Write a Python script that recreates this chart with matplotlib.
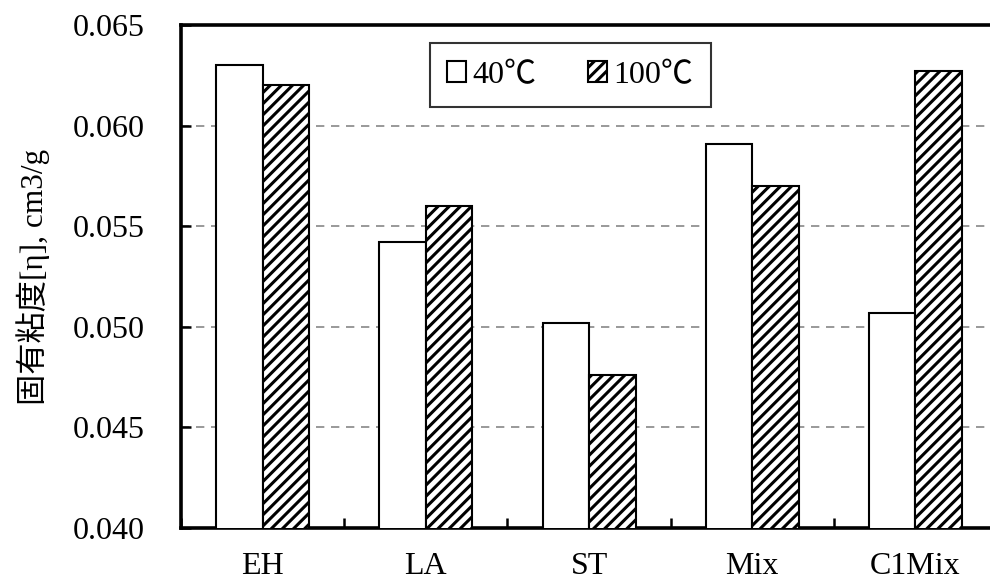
import matplotlib
matplotlib.use("Agg")
import matplotlib.pyplot as plt
import numpy as np

categories = ["EH", "LA", "ST", "Mix", "C1Mix"]
vals_40 = [0.0630, 0.0542, 0.0502, 0.0591, 0.0507]
vals_100 = [0.0620, 0.0560, 0.0476, 0.0570, 0.0627]
series_labels = ["40℃", "100℃"]
yticks = [0.040, 0.045, 0.050, 0.055, 0.060, 0.065]
ylabel = "固有粘度[η], cm3/g"

plt.rcParams["font.family"] = ["Liberation Serif", "Noto Sans CJK JP"]
plt.rcParams["hatch.linewidth"] = 2.2
plt.rcParams["hatch.color"] = "black"

fig = plt.figure(figsize=(9.9, 5.8), dpi=100)
ax = fig.add_axes([0.183, 0.0897, 0.824, 0.867])

x = np.arange(len(categories))
w = 0.285
ax.bar(x - w / 2, vals_40, w, facecolor="white", edgecolor="black",
       linewidth=1.5, label=series_labels[0], zorder=3)
ax.bar(x + w / 2, vals_100, w, facecolor="white", edgecolor="black",
       linewidth=1.5, hatch="///", label=series_labels[1], zorder=3)

ax.set_xlim(-0.5, len(categories) - 0.5)
ax.set_ylim(0.040, 0.065)
ax.set_yticks(yticks)
ax.set_yticklabels([f"{t:.3f}" for t in yticks])
ax.yaxis.grid(True, linestyle=(0, (5, 4)), color="#888888", linewidth=1.2, zorder=0)

# category labels centred, tick marks between groups
ax.set_xticks(x)
ax.set_xticklabels(categories)
ax.tick_params(axis="x", which="major", length=0, labelsize=23, pad=17)
ax.set_xticks(np.arange(-0.5, len(categories)), minor=True)
ax.tick_params(axis="x", which="minor", direction="in", length=7, width=1.8)
ax.tick_params(axis="y", direction="in", length=7, width=1.8, labelsize=23, pad=26)

for s in ax.spines.values():
    s.set_linewidth(2.6)

ax.set_ylabel(ylabel, fontsize=22.5)
ax.yaxis.set_label_coords(-0.161, 0.5)

leg = ax.legend(loc="center", bbox_to_anchor=(0.477, 0.9), ncol=2, fontsize=23,
                frameon=True, fancybox=False, edgecolor="black",
                handlelength=0.6, handleheight=0.6, handletextpad=0.2,
                columnspacing=1.6, borderpad=0.55, borderaxespad=0)
leg.get_frame().set_linewidth(1.5)
for h in leg.legend_handles:
    h.set_linewidth(1.5)

fig.savefig("out.png", dpi=100)
